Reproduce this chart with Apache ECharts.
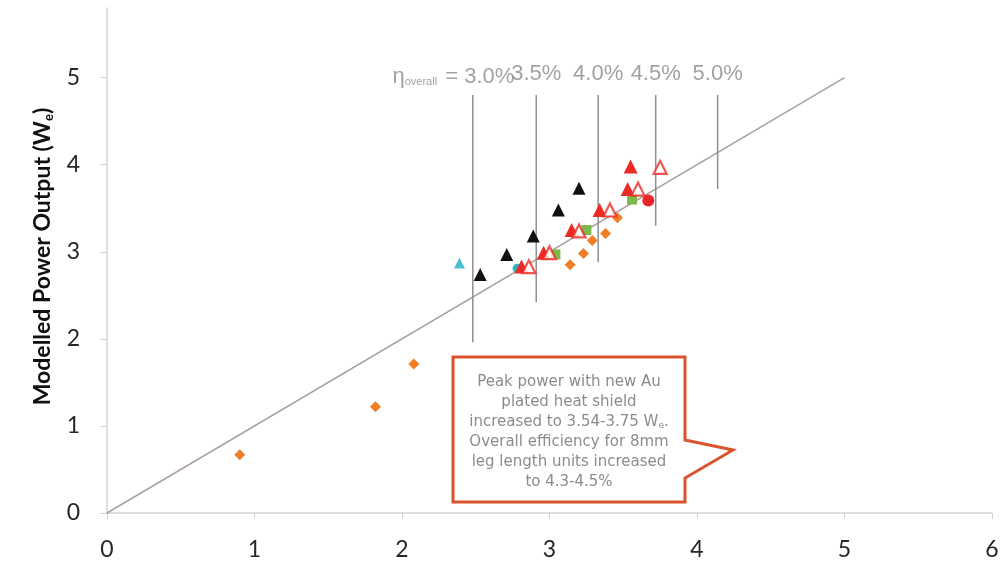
<!DOCTYPE html>
<html>
<head>
<meta charset="utf-8">
<script src="https://cdn.jsdelivr.net/npm/echarts@6/dist/echarts.min.js"></script>
<style>
  html, body { margin: 0; padding: 0; background: #fff; }
  #chart { width: 1007px; height: 563px; }
</style>
</head>
<body>
<div id="chart"></div>
<script>
// measured points, [input-ish x, modelled power W_e]
const blackTri = [[2.53, 2.74], [2.71, 2.97], [2.89, 3.18], [3.06, 3.48], [3.20, 3.73]];
const cyanTri = [[2.39, 2.87]];
const cyanDot = [[2.78, 2.81]];
const redTriFilled = [[2.81, 2.83], [2.96, 2.99], [3.15, 3.25], [3.34, 3.48], [3.53, 3.72], [3.55, 3.98]];
const redTriOpen = [[2.86, 2.83], [3.00, 2.99], [3.20, 3.24], [3.41, 3.48], [3.60, 3.72], [3.75, 3.97]];
const redDot = [[3.67, 3.59]];
const greenSq = [[3.04, 2.97], [3.25, 3.25], [3.56, 3.60]];
const orangeDia = [[0.90, 0.67], [1.82, 1.22], [2.08, 1.71], [3.14, 2.85], [3.23, 2.98], [3.29, 3.13], [3.38, 3.21], [3.46, 3.39]];

// unity line and efficiency markers
const unityLine = [[0, 0], [5, 5]];
const effLabels = ['3.0%', '3.5%', '4.0%', '4.5%', '5.0%'];
const effX = [2.48, 2.91, 3.33, 3.72, 4.14];
const effBottom = [1.96, 2.42, 2.88, 3.30, 3.72];
const effTop = 4.80;

const xTicks = [0, 1, 2, 3, 4, 5, 6];
const yTicks = [0, 1, 2, 3, 4, 5];

const chart = echarts.init(document.getElementById('chart'));

const effLineSeries = effX.map((x, i) => ({
    type: 'line',
    data: [[x, effBottom[i]], [x, effTop]],
    symbol: 'none',
    silent: true,
    z: 1,
    lineStyle: { color: '#8f8f8f', width: 1.5 }
}));

const labelFont = { fontFamily: 'Liberation Sans', fontSize: 22, color: '#8a8a8a' };

const effLabelData = effX.map((x, i) => {
    if (i === 0) {
        return {
            value: [x, effTop],
            label: {
                position: [42, -18],
                align: 'right',
                verticalAlign: 'middle',
                formatter: '{eta|η}{sub|overall}{eq| = ' + effLabels[0] + '}',
                rich: {
                    eta: { ...labelFont },
                    sub: { ...labelFont, fontSize: 11, padding: [10, 2, 0, 0] },
                    eq: { ...labelFont }
                }
            }
        };
    }
    return { value: [x, effTop], name: effLabels[i] };
});

function mk(data, symbol, size, color, extra) {
    return Object.assign({
        type: 'scatter',
        data: data,
        symbol: symbol,
        symbolSize: size,
        z: 3,
        itemStyle: { color: color, opacity: 1 }
    }, extra || {});
}

const option = {
    backgroundColor: '#fff',
    animation: false,
    grid: { left: 107, right: 15, top: 8, bottom: 50, outerBoundsMode: 'none' },
    xAxis: {
        type: 'value',
        min: 0, max: 6, interval: 1,
        splitLine: { show: false },
        axisLine: { lineStyle: { color: '#d8d2cf', width: 1.5 } },
        axisTick: { show: true, length: 6, lineStyle: { color: '#d8d2cf' }, customValues: xTicks },
        axisLabel: { margin: 25, fontFamily: 'Lato', fontSize: 23, color: '#262626', customValues: xTicks }
    },
    yAxis: {
        type: 'value',
        min: 0, max: 5.8, interval: 1,
        splitLine: { show: false },
        axisLine: { show: true, lineStyle: { color: '#d8d2cf', width: 1.5 } },
        axisTick: { show: true, length: 7, lineStyle: { color: '#d8d2cf' }, customValues: yTicks },
        axisLabel: { margin: 27, fontFamily: 'Lato', fontSize: 23, color: '#262626', customValues: yTicks },
        name: 'Modelled Power Output (W{s|e})',
        nameLocation: 'middle',
        nameGap: 48,
        nameRotate: 90,
        nameTextStyle: {
            fontFamily: 'Lato', fontWeight: 'bold', fontSize: 23, color: '#111',
            padding: [0, 0, 0, 8],
            rich: { s: { fontFamily: 'Lato', fontWeight: 'bold', fontSize: 13, color: '#111', padding: [13, 0, 0, 0] } }
        }
    },
    series: [
        {
            type: 'line',
            data: unityLine,
            symbol: 'none',
            silent: true,
            z: 1,
            lineStyle: { color: '#aaa09c', width: 1.5 }
        },
        ...effLineSeries,
        {
            type: 'scatter',
            data: effLabelData,
            symbolSize: 1,
            itemStyle: { color: 'transparent' },
            silent: true,
            z: 2,
            label: {
                show: true,
                position: 'top',
                distance: 10,
                formatter: p => p.name,
                ...labelFont
            }
        },
        mk(orangeDia, 'diamond', 11, '#f07e26'),
        mk(greenSq, 'rect', 10, '#7cb84a'),
        mk(cyanTri, 'triangle', 11, '#4cc0cf'),
        mk(cyanDot, 'circle', 9, '#2ab3c8'),
        mk(blackTri, 'triangle', 13, '#111'),
        mk(redTriFilled, 'triangle', 14, '#ec2b26'),
        mk(redDot, 'circle', 12, '#e8262a'),
        mk(redTriOpen, 'triangle', 13, '#fff', {
            itemStyle: { color: '#fff', borderColor: '#ec2b26', borderWidth: 2.2 }
        })
    ],
    graphic: [
        {
            type: 'polygon',
            z: 10,
            shape: {
                points: [[453, 357], [685, 357], [685, 440], [733, 450], [685, 478], [685, 502], [453, 502]]
            },
            style: { fill: '#fff', stroke: '#d9532c', lineWidth: 3 }
        },
        {
            type: 'text',
            z: 11,
            x: 569,
            y: 372,
            style: {
                text: 'Peak power with new Au\nplated heat shield\nincreased to 3.54-3.75 W{s|e}.\nOverall efficiency for 8mm\nleg length units increased\nto 4.3-4.5%',
                align: 'center',
                verticalAlign: 'top',
                fontFamily: 'DejaVu Sans',
                fontSize: 15,
                lineHeight: 20,
                fill: '#8c8c8c',
                rich: { s: { fontFamily: 'DejaVu Sans', fontSize: 9, fill: '#8c8c8c', lineHeight: 20, padding: [8, 0, 0, 0] } }
            }
        }
    ]
};

chart.setOption(option);
</script>
</body>
</html>
